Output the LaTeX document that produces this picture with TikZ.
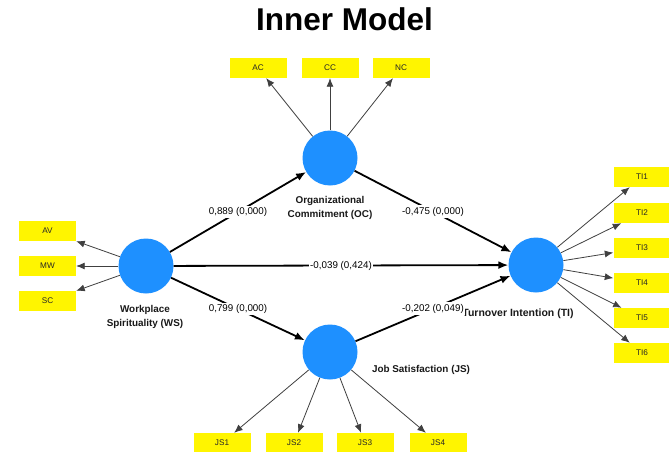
\documentclass[tikz,border=0pt]{standalone}
\usepackage{fontspec}
\setmainfont{Liberation Sans}
\usetikzlibrary{arrows.meta}
\definecolor{lvblue}{RGB}{30,144,255}
\definecolor{indyellow}{RGB}{255,245,0}
\begin{document}
\begin{tikzpicture}[x=1pt,y=-1pt,
  latent/.style={circle,fill=lvblue,minimum size=55pt,inner sep=0pt},
  indicator/.style={fill=indyellow,minimum width=57pt,minimum height=20pt,inner sep=0pt,
    font=\fontsize{8.2}{9}\selectfont,text=black!85},
  structpath/.style={line width=1.8pt,-{Latex[length=10pt,width=8pt]}},
  loading/.style={line width=0.8pt,draw=black!75,-{Latex[length=8.5pt,width=7pt]}},
  coef/.style={fill=white,inner sep=1.5pt,midway,text=black,
    font=\fontsize{9.8}{11}\selectfont},
  lvlabel/.style={font=\bfseries\fontsize{9.9}{14}\selectfont,align=center,text=black!90}]
\useasboundingbox (0,0) rectangle (669,452);
\fill[white] (0,0) rectangle (669,452);

% title
\node[font=\bfseries\fontsize{31.5}{36}\selectfont] (title) at (344.5,19.5) {Inner Model};

% latent variables
\node[latent] (WS) at (146,266) {};
\node[latent] (OC) at (330,158) {};
\node[latent] (JS) at (330,352) {};
\node[latent] (TI) at (536,265) {};

% latent variable names
\node[lvlabel] (wslab) at (145,317) {Workplace\\Spirituality (WS)};
\node[lvlabel] (oclab) at (330,208) {Organizational\\Commitment (OC)};
\node[lvlabel] (jslab) at (421,370) {Job Satisfaction (JS)};
\node[lvlabel,font=\bfseries\fontsize{10.5}{14}\selectfont] (tilab) at (518,314) {Turnover Intention (TI)};

% indicators
\node[indicator] (AC) at (258,68) {AC};
\node[indicator] (CC) at (330,68) {CC};
\node[indicator] (NC) at (401,68) {NC};
\node[indicator] (AV) at (47.5,231) {AV};
\node[indicator] (MW) at (47.5,266) {MW};
\node[indicator] (SC) at (47.5,301) {SC};
\node[indicator] (TI1) at (642,177) {TI1};
\node[indicator] (TI2) at (642,213) {TI2};
\node[indicator] (TI3) at (642,248) {TI3};
\node[indicator] (TI4) at (642,283) {TI4};
\node[indicator] (TI5) at (642,318) {TI5};
\node[indicator] (TI6) at (642,353) {TI6};
\node[indicator] (JS1) at (222,443) {JS1};
\node[indicator] (JS2) at (294,443) {JS2};
\node[indicator] (JS3) at (365,443) {JS3};
\node[indicator] (JS4) at (438,443) {JS4};

% outer model loadings
\foreach \i in {AC,CC,NC} \draw[loading] (OC) -- (\i);
\foreach \i in {AV,MW,SC} \draw[loading] (WS) -- (\i);
\foreach \i in {TI1,TI2,TI3,TI4,TI5,TI6} \draw[loading] (TI) -- (\i);
\foreach \i in {JS1,JS2,JS3,JS4} \draw[loading] (JS) -- (\i);

% structural paths with coefficients (p-values)
\draw[structpath] (WS) -- node[coef] {0,889 (0,000)} (OC);
\draw[structpath] (OC) -- node[coef] {-0,475 (0,000)} (TI);
\draw[structpath] (WS) -- node[coef] {-0,039 (0,424)} (TI);
\draw[structpath] (WS) -- node[coef] {0,799 (0,000)} (JS);
\draw[structpath] (JS) -- node[coef] {-0,202 (0,049)} (TI);
\end{tikzpicture}
\end{document}
